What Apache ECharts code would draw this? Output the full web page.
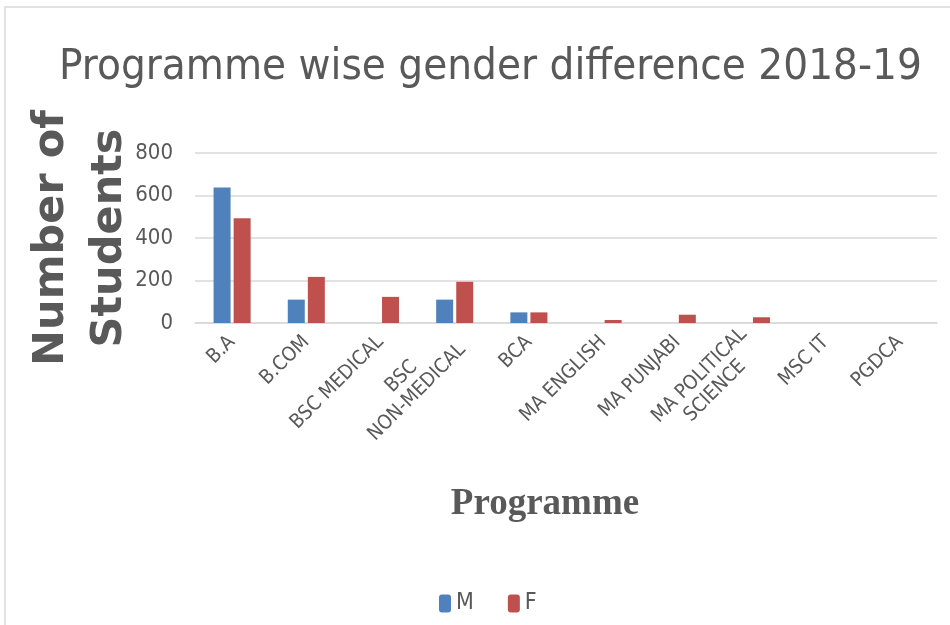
<!DOCTYPE html>
<html>
<head>
<meta charset="utf-8">
<script src="https://cdn.jsdelivr.net/npm/echarts@6/dist/echarts.min.js"></script>
<style>
  html, body { margin: 0; padding: 0; background: #fff; }
  #chart { width: 950px; height: 625px; }
</style>
</head>
<body>
<div id="chart"></div>
<script>
// programmes on the x axis (\n = wrapped label as in the original)
const programmes = ['B.A', 'B.COM', 'BSC MEDICAL', 'BSC\nNON-MEDICAL', 'BCA',
  'MA ENGLISH', 'MA PUNJABI', 'MA POLITICAL\nSCIENCE', 'MSC IT', 'PGDCA']
const male = [638, 110, 0, 110, 50, 0, 0, 0, 0, 0]
const female = [493, 217, 123, 194, 50, 14, 39, 27, 0, 0]
const yTicks = [0, 200, 400, 600, 800]

const grey = '#595959'
const narrow = '"DejaVu Sans Condensed", "Liberation Sans Narrow", sans-serif'

const chart = echarts.init(document.getElementById('chart'))

const option = {
  animation: false,
  title: {
    text: 'Programme wise gender difference 2018-19',
    left: 54,
    top: 41,
    textStyle: { fontFamily: narrow, fontSize: 43.5, fontWeight: 'normal', color: grey }
  },
  legend: {
    data: ['M', 'F'],
    left: 434,
    top: 587,
    itemWidth: 12,
    itemHeight: 18,
    itemGap: 34,
    textStyle: { fontFamily: narrow, fontSize: 23, color: grey }
  },
  grid: { left: 195, right: 13, top: 153, bottom: 302 },
  xAxis: {
    type: 'category',
    data: programmes,
    axisLine: { lineStyle: { color: '#d9d9d9', width: 1.5 } },
    axisTick: { show: false },
    axisLabel: {
      interval: 0,
      rotate: 45,
      margin: 16,
      fontFamily: narrow,
      fontSize: 20,
      color: grey,
      formatter: v => v.split('\n').map(s => '{c|' + s + '}').join('\n'),
      rich: { c: { align: 'center', fontFamily: narrow, fontSize: 20, lineHeight: 22, color: grey } }
    },
    name: 'Programme',
    nameLocation: 'middle',
    nameGap: 163,
    nameMoveOverlap: false,
    nameTextStyle: {
      fontFamily: '"Liberation Serif", serif',
      fontWeight: 'bold',
      fontSize: 37,
      color: grey,
      padding: [0, 42, 0, 0]
    }
  },
  yAxis: {
    type: 'value',
    min: yTicks[0],
    max: yTicks[yTicks.length - 1],
    interval: 200,
    axisLabel: { margin: 22, fontFamily: narrow, fontSize: 22, color: grey },
    splitLine: { lineStyle: { color: '#d9d9d9', width: 1.5 } },
    name: 'Number of\nStudents',
    nameLocation: 'middle',
    nameRotate: 90,
    nameGap: 56,
    nameMoveOverlap: false,
    nameTextStyle: {
      fontFamily: '"DejaVu Sans", sans-serif',
      fontWeight: 'bold',
      fontSize: 43,
      lineHeight: 58,
      color: grey
    }
  },
  series: [
    { name: 'M', type: 'bar', data: male, barWidth: 17, barGap: '18%', itemStyle: { color: '#4F81BD' } },
    { name: 'F', type: 'bar', data: female, barWidth: 17, itemStyle: { color: '#C0504D' } }
  ],
  graphic: [{
    type: 'rect',
    shape: { x: 5, y: 7, width: 1000, height: 700 },
    style: { fill: 'none', stroke: '#d9d9d9', lineWidth: 1.5 },
    silent: true
  }]
}

chart.setOption(option)
</script>
</body>
</html>
